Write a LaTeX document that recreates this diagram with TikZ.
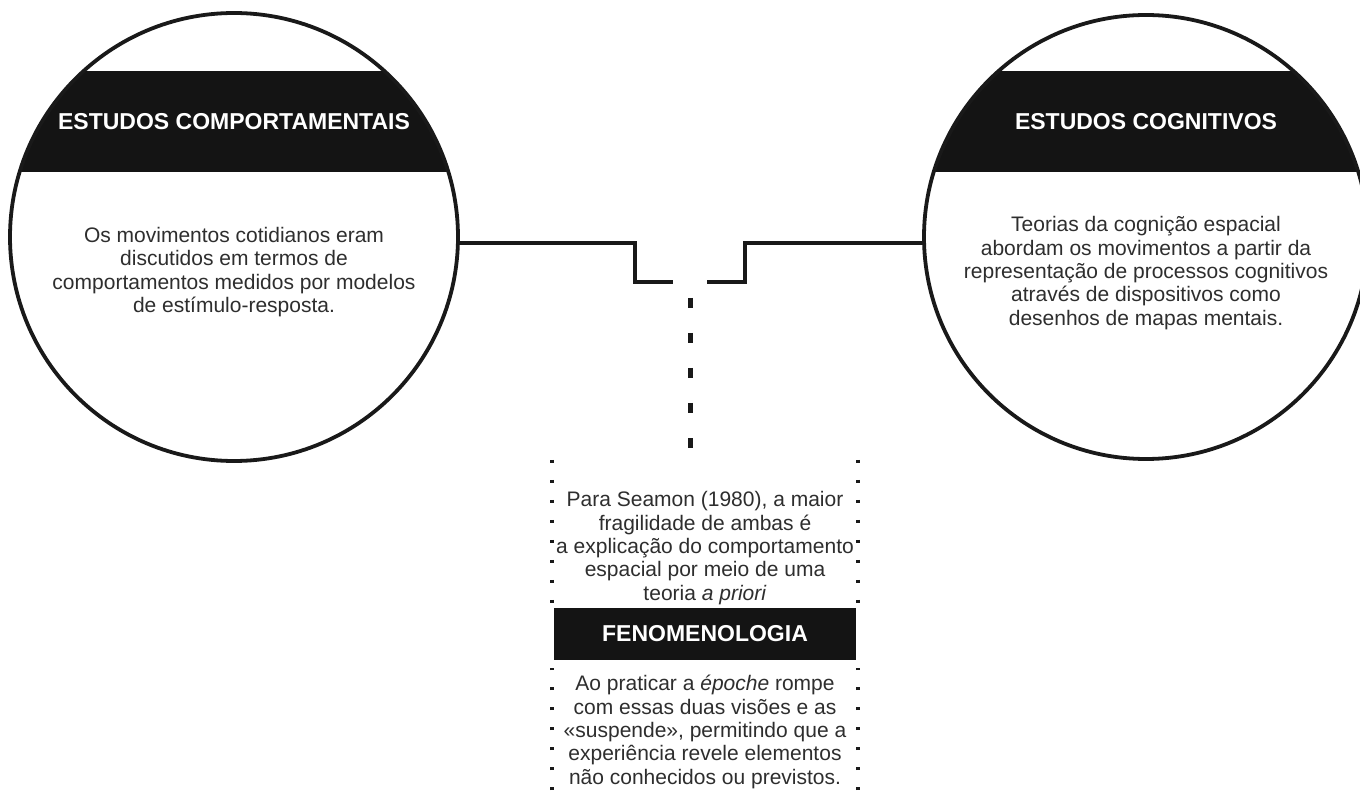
\documentclass[tikz,border=0pt]{standalone}
\usepackage{fontspec}
\setmainfont{Liberation Sans}
\begin{document}
\begin{tikzpicture}[x=1pt,y=-1pt,
  ln/.style={draw=black!90, line width=4pt, line cap=butt, line join=miter},
  circ/.style={circle, draw=black!90, line width=3.8pt, inner sep=0pt},
  band/.style={fill=black!92},
  body/.style={font=\fontsize{21}{23.3}\selectfont, text=black!82, align=center, inner sep=0pt},
  title/.style={font=\fontsize{23}{26}\selectfont\bfseries, text=white},
  vdash/.style={draw=black!90, line width=5pt, dash pattern=on 10pt off 25pt},
  dots/.style={draw=black!90, line width=3.5pt, dash pattern=on 3.5pt off 16.5pt}]
\clip (0,0) rectangle (1360,791);
\fill[white] (0,0) rectangle (1360,791);

% left circle
\coordinate (lcc) at (234,237);
\begin{scope}
  \clip (lcc) circle[radius=224];
  \fill[band] (0,71) rectangle (680,172);
\end{scope}
\node[circ, minimum size=448pt] (lc) at (lcc) {};
\node[title] (lt) at (234,122) {ESTUDOS COMPORTAMENTAIS};
\node[body] (lb) at (234,272) {Os movimentos cotidianos eram\\discutidos em termos de\\comportamentos medidos por modelos\\de estímulo-resposta.};

% right circle
\coordinate (rcc) at (1146,237);
\begin{scope}
  \clip (rcc) circle[radius=222];
  \fill[band] (680,71) rectangle (1400,172);
\end{scope}
\node[circ, minimum size=444pt] (rc) at (rcc) {};
\node[title] (rt) at (1146,122) {ESTUDOS COGNITIVOS};
\node[body] (rb) at (1146,273) {Teorias da cognição espacial\\abordam os movimentos a partir da\\representação de processos cognitivos\\através de dispositivos como\\desenhos de mapas mentais.};

% connectors
\coordinate (jl) at (673,282);
\coordinate (jr) at (707,282);
\coordinate (jm) at (690,298);
\draw[ln] ([xshift=-2pt]lc.east |- 0,243) -- (635,243) |- (jl);
\draw[ln] ([xshift=2pt]rc.west |- 0,243) -- (745,243) |- (jr);

% bottom box
\node[minimum width=306pt, minimum height=330pt, inner sep=0pt] (box) at (705,625) {};
\node[band, title, minimum width=302pt, minimum height=52pt] (fen) at (705,634) {FENOMENOLOGIA};
\node[body] (up) at (705,548) {Para Seamon (1980), a maior\\fragilidade de ambas é\\a explicação do comportamento\\espacial por meio de uma\\teoria \textit{a priori}};
\node[body] (lo) at (705,732) {Ao praticar a \textit{époche} rompe\\com essas duas visões e as\\«suspende», permitindo que a\\experiência revele elementos\\não conhecidos ou previstos.};

\draw[vdash] (jm) -- (jm |- box.north);

\draw[dots] (box.north west) -- (box.west |- fen.north);
\draw[dots] (box.north east) -- (box.east |- fen.north);
\draw[dots] (box.south west) -- ([yshift=-8pt]box.west |- fen.south);
\draw[dots] (box.south east) -- ([yshift=-8pt]box.east |- fen.south);
\end{tikzpicture}
\end{document}
